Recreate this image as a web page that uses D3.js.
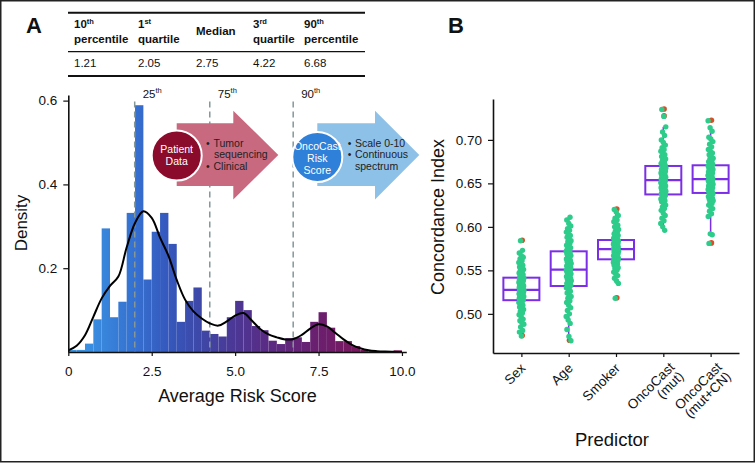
<!DOCTYPE html>
<html><head><meta charset="utf-8">
<script src="https://cdn.jsdelivr.net/npm/d3@7"></script>
<style>
body{margin:0;background:#fff}
svg{display:block}
text{font-family:"Liberation Sans",Arial,Helvetica,sans-serif;fill:#111}
</style>
</head><body>
<svg id="chart" width="756" height="463"></svg>
<script>
// ---------- Panel A data ----------
const tableHeaderMain  = ["10", "1", "Median", "3", "90"];
const tableHeaderSup   = ["th", "st", "", "rd", "th"];
const tableHeaderLine2 = ["percentile", "quartile", "", "quartile", "percentile"];
const tableValues      = ["1.21", "2.05", "2.75", "4.22", "6.68"];

const histBinStart = [0,0.25,0.5,0.75,1,1.25,1.5,1.75,2,2.25,2.5,2.75,3,3.25,3.5,3.75,4,4.25,4.5,4.75,
                      5,5.25,5.5,5.75,6,6.25,6.5,6.75,7,7.25,7.5,7.75,8,8.25,8.5,8.75,9,9.25,9.5,9.75];
const histDensity  = [0.005,0.005,0.020,0.078,0.295,0.083,0.120,0.332,0.589,0.173,0.287,0.332,0.258,0.072,0.122,0.154,0.051,0.043,0.037,0.083,
                      0.122,0.100,0.062,0.052,0.027,0.019,0.033,0.035,0.024,0.072,0.095,0.058,0.026,0.026,0.014,0.005,0.003,0,0,0.004];
const binWidth = 0.25;

const kdeX = [0,0.25,0.5,0.75,1,1.25,1.5,1.75,2,2.25,2.5,2.75,3,3.25,3.5,3.75,4,4.25,4.5,4.75,5,5.25,5.5,5.75,6,6.25,6.5,6.75,7,7.25,7.5,7.75,8,8.25,8.5,8.75,9,9.25,9.5,10];
const kdeY = [0.004,0.015,0.040,0.084,0.128,0.158,0.180,0.250,0.308,0.336,0.320,0.273,0.230,0.172,0.125,0.097,0.080,0.068,0.063,0.073,0.087,0.093,0.075,0.055,0.042,0.035,0.030,0.031,0.041,0.056,0.066,0.061,0.046,0.030,0.017,0.009,0.004,0.002,0.001,0.000];

const pctLineValues = [1.99, 4.24, 6.74];
const pctLineLabels = ["25", "75", "90"];

const xTicksA = [0, 2.5, 5, 7.5, 10];
const xTickLabelsA = ["0", "2.5", "5.0", "7.5", "10.0"];
const yTicksA = [0.2, 0.4, 0.6];
const yTickLabelsA = ["0.2", "0.4", "0.6"];

const gradStopValues = [0, 1, 2, 3, 4, 5, 6, 7.5, 9, 10];
const gradStopColors = ["#3b9be9","#3886dc","#3570d0","#3558bd","#3e47a6","#4c3795","#5a2b84","#6b1f6e","#7d165a","#84145a"];

// ---------- Panel B data ----------
const predictors = ["Sex", "Age", "Smoker", "OncoCast (mut)", "OncoCast (mut+CN)"];
const predictorLabelLines = [["Sex"], ["Age"], ["Smoker"], ["OncoCast", "(mut)"], ["OncoCast", "(mut+CN)"]];
const boxQ1  = [0.5157, 0.5320, 0.5627, 0.6373, 0.6390];
const boxMed = [0.5275, 0.5508, 0.5745, 0.6537, 0.6550];
const boxQ3  = [0.5416, 0.5719, 0.5849, 0.6700, 0.6708];
const whiskLo = [0.479, 0.474, 0.535, 0.596, 0.591];
const whiskHi = [0.573, 0.611, 0.617, 0.715, 0.714];
const outliers = [[0.584, 0.4745], [0.469], [0.620, 0.518], [0.735, 0.727], [0.722, 0.581]];
const yTicksB = [0.50, 0.55, 0.60, 0.65, 0.70];
const yTickLabelsB = ["0.50", "0.55", "0.60", "0.65", "0.70"];

const cindexSex = [0.4745,0.479,0.481,0.485,0.488,0.490,0.492,0.494,0.497,0.499,0.501,0.503,0.505,0.507,0.508,0.510,0.511,0.513,0.514,0.515,
  0.516,0.517,0.518,0.518,0.519,0.520,0.520,0.521,0.522,0.522,0.523,0.524,0.524,0.525,0.525,0.526,0.526,0.527,0.527,0.527,
  0.528,0.529,0.529,0.530,0.531,0.531,0.532,0.533,0.533,0.534,0.535,0.536,0.536,0.537,0.538,0.538,0.539,0.540,0.541,0.541,
  0.542,0.543,0.545,0.546,0.547,0.549,0.550,0.551,0.553,0.554,0.556,0.557,0.559,0.561,0.563,0.565,0.567,0.570,0.573,0.584];
const cindexAge = [0.469,0.474,0.482,0.489,0.493,0.497,0.500,0.504,0.507,0.510,0.513,0.515,0.518,0.520,0.522,0.524,0.526,0.528,0.530,0.531,
  0.532,0.533,0.534,0.535,0.536,0.537,0.538,0.539,0.540,0.541,0.542,0.543,0.544,0.545,0.546,0.547,0.548,0.549,0.550,0.550,
  0.551,0.552,0.553,0.554,0.555,0.556,0.557,0.558,0.559,0.560,0.561,0.562,0.563,0.564,0.566,0.567,0.568,0.569,0.570,0.571,
  0.572,0.573,0.575,0.576,0.578,0.579,0.581,0.583,0.584,0.586,0.588,0.590,0.592,0.594,0.596,0.598,0.601,0.604,0.608,0.611];
const cindexSmoker = [0.518,0.535,0.538,0.541,0.544,0.546,0.548,0.550,0.552,0.553,0.555,0.556,0.557,0.558,0.559,0.560,0.561,0.561,0.562,0.562,
  0.563,0.563,0.564,0.565,0.565,0.566,0.567,0.567,0.568,0.569,0.569,0.570,0.571,0.571,0.572,0.572,0.573,0.573,0.574,0.574,
  0.575,0.575,0.576,0.577,0.577,0.578,0.578,0.579,0.580,0.580,0.581,0.581,0.582,0.582,0.583,0.583,0.584,0.584,0.585,0.585,
  0.586,0.587,0.588,0.589,0.590,0.591,0.592,0.594,0.595,0.597,0.598,0.600,0.602,0.604,0.606,0.608,0.610,0.613,0.617,0.620];
const cindexMut = [0.596,0.600,0.604,0.607,0.610,0.613,0.616,0.619,0.621,0.623,0.625,0.627,0.629,0.630,0.631,0.632,0.633,0.634,0.636,0.637,
  0.638,0.639,0.640,0.641,0.642,0.642,0.643,0.644,0.645,0.646,0.646,0.647,0.648,0.649,0.650,0.650,0.651,0.652,0.653,0.653,
  0.654,0.655,0.656,0.657,0.657,0.658,0.659,0.660,0.661,0.662,0.662,0.663,0.664,0.665,0.666,0.666,0.667,0.668,0.669,0.670,
  0.671,0.672,0.673,0.675,0.676,0.678,0.679,0.681,0.683,0.685,0.687,0.689,0.691,0.694,0.697,0.700,0.705,0.709,0.715,0.727,0.735];
const cindexMutCN = [0.581,0.591,0.592,0.612,0.615,0.618,0.621,0.623,0.625,0.627,0.629,0.630,0.631,0.632,0.633,0.634,0.635,0.636,0.637,0.638,
  0.639,0.640,0.641,0.642,0.643,0.644,0.644,0.645,0.646,0.647,0.648,0.648,0.649,0.650,0.651,0.652,0.652,0.653,0.654,0.654,
  0.655,0.656,0.657,0.658,0.658,0.659,0.660,0.661,0.662,0.662,0.663,0.664,0.665,0.666,0.666,0.667,0.668,0.669,0.670,0.670,
  0.671,0.672,0.673,0.675,0.676,0.678,0.679,0.681,0.683,0.685,0.687,0.689,0.692,0.695,0.698,0.701,0.703,0.710,0.714,0.722];
const cindexByPredictor = [cindexSex, cindexAge, cindexSmoker, cindexMut, cindexMutCN];

// ---------- Drawing ----------
const svg = d3.select("#chart");
const defs = svg.append("defs");

// frame
svg.append("rect").attr("x",0.75).attr("y",0.75).attr("width",753.5).attr("height",461)
  .attr("fill","none").attr("stroke","#222").attr("stroke-width",1.5);

// ===== Panel A =====
const xA = d3.scaleLinear().domain([0, 10.13]).range([68.3, 406.3]);
const yA = d3.scaleLinear().domain([0, 0.6134]).range([352, 95]);

svg.append("text").attr("x",26).attr("y",33.3).attr("font-size",22).attr("font-weight","bold").text("A");

// table
const tableCols = [74, 138, 196, 253, 304];
const tbl = svg.append("g");
[[12.7,2],[51.7,1.3],[76,2]].forEach(([y,w]) =>
  tbl.append("line").attr("x1",68).attr("x2",365).attr("y1",y).attr("y2",y).attr("stroke","#111").attr("stroke-width",w));
tableHeaderMain.forEach((h,i) => {
  const two = tableHeaderLine2[i] !== "";
  const t = tbl.append("text").attr("x",tableCols[i]).attr("y", two ? 28.3 : 35)
    .attr("font-size",11.5).attr("font-weight","bold");
  t.append("tspan").text(h);
  if (tableHeaderSup[i]) t.append("tspan").attr("font-size",7.5).attr("dy",-4.5).text(tableHeaderSup[i]);
  if (two) tbl.append("text").attr("x",tableCols[i]).attr("y",42.7).attr("font-size",11.5)
    .attr("font-weight","bold").text(tableHeaderLine2[i]);
  tbl.append("text").attr("x",tableCols[i]).attr("y",66.7).attr("font-size",11.5).text(tableValues[i]);
});

// gradient
const grad = defs.append("linearGradient").attr("id","histGrad").attr("gradientUnits","userSpaceOnUse")
  .attr("x1",xA(0)).attr("x2",xA(10)).attr("y1",0).attr("y2",0);
gradStopValues.forEach((v,i)=> grad.append("stop").attr("offset",v/10).attr("stop-color",gradStopColors[i]));

// bars
svg.append("g").selectAll("rect").data(histBinStart.map((s,i)=>({s, d:histDensity[i]})).filter(b=>b.d>0))
  .join("rect")
  .attr("x", b => xA(b.s)).attr("width", b => xA(b.s+binWidth)-xA(b.s))
  .attr("y", b => yA(b.d)).attr("height", b => yA(0)-yA(b.d))
  .attr("fill","url(#histGrad)");

// percentile dashed lines
pctLineValues.forEach((v,i)=>{
  svg.append("line").attr("x1",xA(v)).attr("x2",xA(v)).attr("y1",101.5).attr("y2",yA(0))
    .attr("stroke","#859797").attr("stroke-width",1.5).attr("stroke-dasharray","6,4");
  const t = svg.append("text").attr("x",xA(v)+8).attr("y",97.5).attr("font-size",11.5);
  t.append("tspan").text(pctLineLabels[i]);
  t.append("tspan").attr("font-size",7.5).attr("dy",-4.5).text("th");
});

// density curve
svg.append("path").datum(kdeX.map((x,i)=>[x,kdeY[i]]))
  .attr("fill","none").attr("stroke","#000").attr("stroke-width",2)
  .attr("d", d3.line().x(d=>xA(d[0])).y(d=>yA(d[1])).curve(d3.curveCatmullRom.alpha(0.5)));

// axes A
const axXA = svg.append("g").attr("transform",`translate(0,${yA(0)})`)
  .call(d3.axisBottom(xA).tickValues(xTicksA).tickFormat((d,i)=>xTickLabelsA[i]).tickSize(4).tickSizeOuter(0).tickPadding(10));
const axYA = svg.append("g").attr("transform",`translate(${xA(0)},0)`)
  .call(d3.axisLeft(yA).tickValues(yTicksA).tickFormat((d,i)=>yTickLabelsA[i]).tickSize(5).tickSizeOuter(0).tickPadding(6));
[axXA, axYA].forEach(a=>{
  a.select(".domain").attr("stroke","#111").attr("stroke-width",1.6);
  a.selectAll(".tick line").attr("stroke","#111").attr("stroke-width",1.2);
  a.selectAll(".tick text").attr("font-size",13.5).attr("fill","#111").attr("font-family",null);
});
svg.append("text").attr("transform","translate(27,223) rotate(-90)").attr("text-anchor","middle")
  .attr("font-size",17).text("Density");
svg.append("text").attr("x",237.5).attr("y",401.5).attr("text-anchor","middle")
  .attr("font-size",18).text("Average Risk Score");

// infographic arrows
function arrowPath(x0, xh, xt, bodyTop, bodyBot, headTop, headBot, mid){
  return `M${x0},${bodyTop}L${xh},${bodyTop}L${xh},${headTop}L${xt},${mid}L${xh},${headBot}L${xh},${bodyBot}L${x0},${bodyBot}Z`;
}
svg.append("path").attr("d",arrowPath(176.7,233.3,278.3,123.3,186,110.7,199.5,155)).attr("fill","#c9697f");
svg.append("path").attr("d",arrowPath(317.3,375,419.3,123.3,186,110.7,199.5,155)).attr("fill","#8ec1e8");
svg.append("circle").attr("cx",176.7).attr("cy",155.5).attr("r",25).attr("fill","#8a0b2b").attr("stroke","#fff").attr("stroke-width",2);
svg.append("circle").attr("cx",317.3).attr("cy",157).attr("r",25).attr("fill","#2f80d9").attr("stroke","#fff").attr("stroke-width",2);
[["Patient",152.5],["Data",164.5]].forEach(([s,y])=>
  svg.append("text").attr("x",176.7).attr("y",y).attr("text-anchor","middle").attr("font-size",10.5).style("fill","#fff").text(s));
[["OncoCast",150],["Risk",162],["Score",174]].forEach(([s,y])=>
  svg.append("text").attr("x",317.3).attr("y",y).attr("text-anchor","middle").attr("font-size",10.5).style("fill","#fff").text(s));
[["•",206,146.5],["Tumor",213.5,146.5],["sequencing",214,158],["•",206,170],["Clinical",213.5,170]].forEach(([s,x,y])=>
  svg.append("text").attr("x",x).attr("y",y).attr("font-size",10.5).style("fill","#222").text(s));
[["•",347.7,146.5],["Scale 0-10",355,146.5],["•",347.7,158],["Continuous",355,158],["spectrum",355,170]].forEach(([s,x,y])=>
  svg.append("text").attr("x",x).attr("y",y).attr("font-size",10.5).style("fill","#222").text(s));

// ===== Panel B =====
svg.append("text").attr("x",448).attr("y",33.3).attr("font-size",22).attr("font-weight","bold").text("B");

const xB = d3.scalePoint().domain(predictors).range([493, 739]).padding(0.6);
const yB = d3.scaleLinear().domain([0.455, 0.747]).range([353, 99]);
const boxW = 36;
const purple = "#7b2ee6";

// deterministic scatter offset for the jitter strip (layout only)
function jitter(j){ const h = Math.imul(j + 17, 2654435761) >>> 0; return ((h >>> 22) / 1023 * 2 - 1) * 2.6; }

const gB = svg.append("g");
predictors.forEach((p,i)=>{
  const cx = xB(p);
  gB.append("line").attr("x1",cx).attr("x2",cx).attr("y1",yB(boxQ3[i])).attr("y2",yB(whiskHi[i])).attr("stroke",purple).attr("stroke-width",1.5);
  gB.append("line").attr("x1",cx).attr("x2",cx).attr("y1",yB(boxQ1[i])).attr("y2",yB(whiskLo[i])).attr("stroke",purple).attr("stroke-width",1.5);
  gB.append("rect").attr("x",cx-boxW/2).attr("width",boxW).attr("y",yB(boxQ3[i])).attr("height",yB(boxQ1[i])-yB(boxQ3[i]))
    .attr("fill","#fff").attr("stroke",purple).attr("stroke-width",2);
  gB.append("line").attr("x1",cx-boxW/2).attr("x2",cx+boxW/2).attr("y1",yB(boxMed[i])).attr("y2",yB(boxMed[i])).attr("stroke",purple).attr("stroke-width",2.2);
  outliers[i].forEach(v=> gB.append("circle").attr("cx",cx+0.8).attr("cy",yB(v)-0.5).attr("r",2.8).attr("fill","#d2502a"));
});
predictors.forEach((p,i)=>{
  const cx = xB(p);
  gB.append("g").selectAll("circle").data(cindexByPredictor[i]).join("circle")
    .attr("cx",(d,j)=> cx + jitter(j + i*101))
    .attr("cy", d=> yB(d)).attr("r",2.7).attr("fill","#2ecc8a");
});

const axYB = svg.append("g").attr("transform","translate(493,0)")
  .call(d3.axisLeft(yB).tickValues(yTicksB).tickFormat((d,i)=>yTickLabelsB[i]).tickSize(5).tickSizeOuter(0).tickPadding(6));
const axXB = svg.append("g").attr("transform","translate(0,353)")
  .call(d3.axisBottom(xB).tickSize(4).tickSizeOuter(0).tickFormat(""));
[axXB, axYB].forEach(a=>{
  a.select(".domain").attr("stroke","#111").attr("stroke-width",1.6);
  a.selectAll(".tick line").attr("stroke","#111").attr("stroke-width",1.2);
  a.selectAll(".tick text").attr("font-size",13.5).attr("fill","#111").attr("font-family",null);
});
predictors.forEach((p,i)=>{
  const lines = predictorLabelLines[i];
  const two = lines.length > 1;
  const cx = xB(p);
  const g = svg.append("g").attr("transform",`translate(${cx + (two ? 12 : 5)},${two ? 368 : 369}) rotate(-45)`);
  lines.forEach((l,j)=> g.append("text").attr("x",0).attr("y",j*13).attr("text-anchor","end").attr("font-size",13.5).text(l));
});
svg.append("text").attr("transform","translate(444,217) rotate(-90)").attr("text-anchor","middle")
  .attr("font-size",18).text("Concordance Index");
svg.append("text").attr("x",612).attr("y",446).attr("text-anchor","middle").attr("font-size",18.5).text("Predictor");
</script>
</body></html>
